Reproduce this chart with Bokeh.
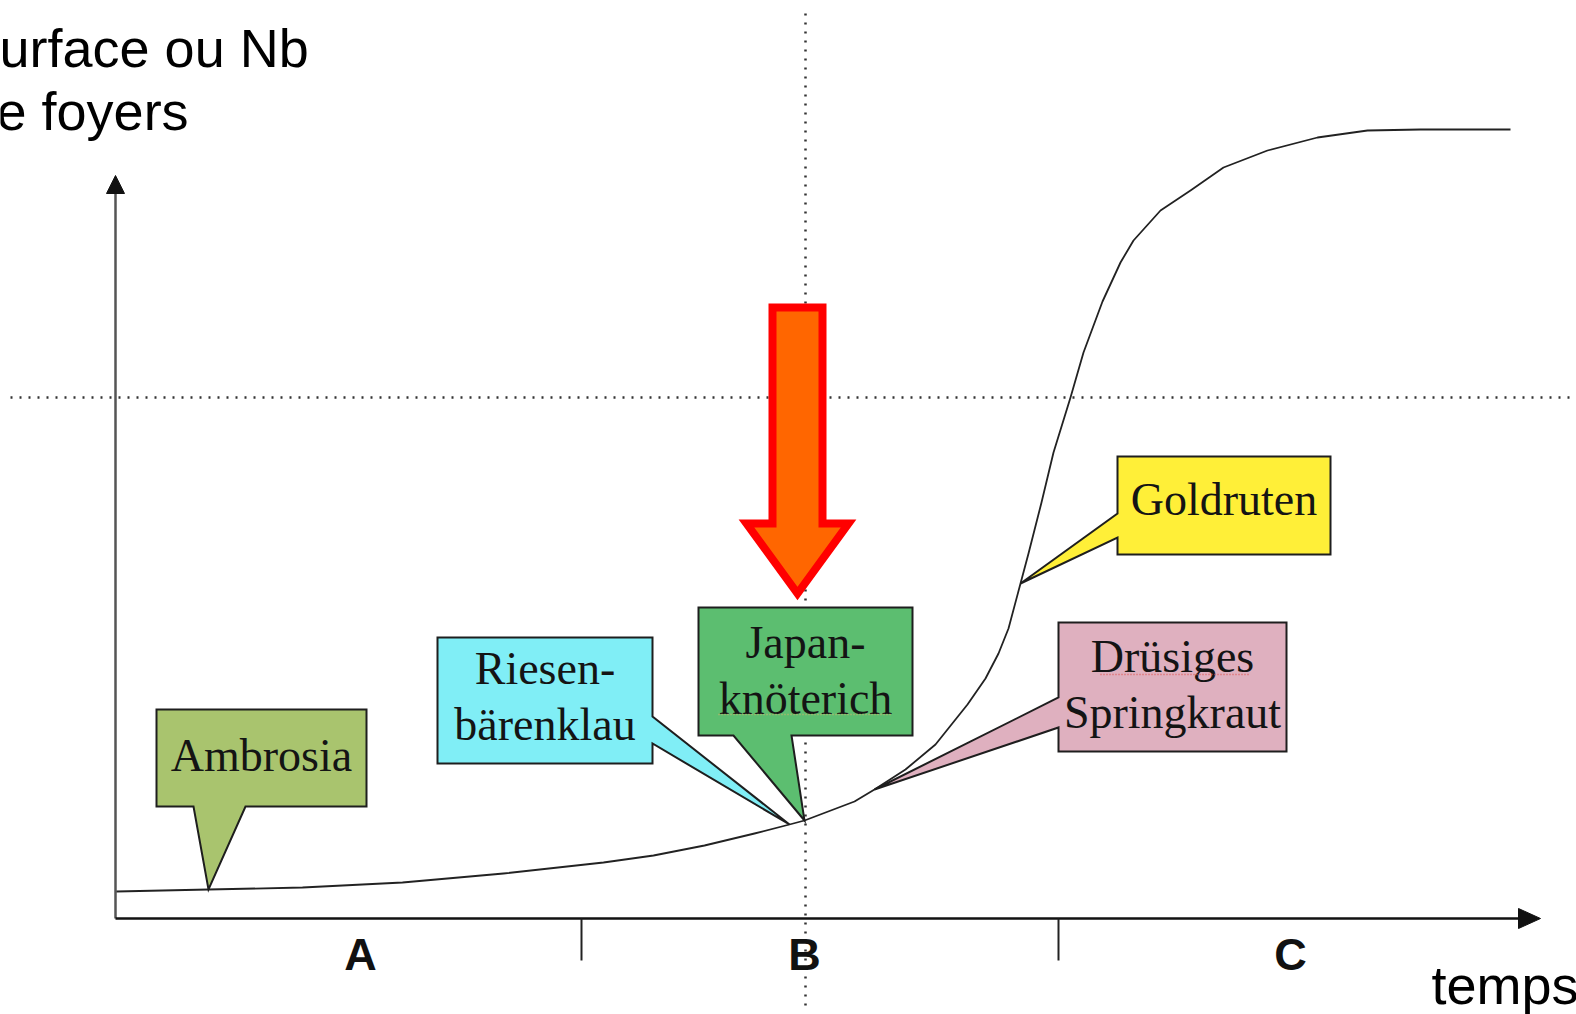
from bokeh.plotting import figure
from bokeh.models import Range1d, ColumnDataSource
from bokeh.core.properties import value
from bokeh.embed import file_html
from bokeh.resources import INLINE

# Spread of invasive plants over time (logistic growth curve).
# time: position along the time axis; surface: area / number of sites.
time = [1, 93, 187, 287, 388, 488, 538, 589, 639, 674, 689, 739, 759, 790,
        820, 852, 870, 883, 893, 905, 913, 926, 938, 955, 968, 987, 1005,
        1018, 1045, 1075, 1108, 1152, 1202, 1252, 1305, 1395]
surface = [27, 29, 31, 36, 45, 56, 63, 73, 85, 94, 98, 117, 129, 149,
           174, 214, 240, 265, 290, 335, 365, 416, 466, 521, 566, 617, 656,
           678, 708, 728, 751, 768, 781, 788, 789, 789]

# Species and the curve point each callout refers to
species = ["Ambrosia", "Riesen-\nbärenklau", "Japan-\nknöterich",
           "Goldruten", "Drüsiges\nSpringkraut"]
species_point = [1, 9, 10, 19, 12]

# Phases along the time axis
phases = ["A", "B", "C"]
phase_bounds = [466, 943]
phase_centers = [245, 689, 1175]

# Threshold levels (dotted guides)
threshold_time = 690
threshold_surface = 521

# Callout layout: box (left, right, top, bottom), side of the tail, tail base
callout_layout = [
    dict(box=(41, 251, 209, 112), side="bottom", base=(78, 130), fill="#A9C46E", first=163),
    dict(box=(322, 537, 281, 155), side="right", base=(202, 175), fill="#80EEF6", first=250),
    dict(box=(583, 797, 311, 183), side="bottom", base=(618, 676), fill="#5CBE70", first=276),
    dict(box=(1002, 1215, 462, 364), side="left", base=(405, 381), fill="#FFEF38", first=419),
    dict(box=(943, 1171, 296, 167), side="left", base=(221, 191), fill="#DFB0BF", first=262),
]
LINE_STEP = 56

p = figure(width=1576, height=1014, x_range=Range1d(-115, 1461),
           y_range=Range1d(-96, 918), output_backend="svg",
           toolbar_location=None, min_border=0,
           x_axis_location=None, y_axis_location=None)
p.grid.visible = False
p.outline_line_color = None
p.background_fill_color = "white"
p.border_fill_color = "white"

# dotted guides
p.line([-105, 1461], [threshold_surface, threshold_surface],
       line_color="#333333", line_width=2.5, line_dash="2 7")
p.line([threshold_time, threshold_time], [-87, 910],
       line_color="#333333", line_width=2.5, line_dash="2 7")

# axes with arrow heads
p.line([0, 0], [0, 727], line_color="#555555", line_width=2.5)
p.patch([-9, 9, 0], [725, 725, 743], color="#111111")
p.line([0, 1405], [0, 0], line_color="#111111", line_width=2.5)
p.patch([1403, 1403, 1425], [10, -10, 0], color="#111111")

# phase separators and labels
p.segment(x0=phase_bounds, y0=[0] * len(phase_bounds),
          x1=phase_bounds, y1=[-42] * len(phase_bounds),
          line_color="#222222", line_width=2)
p.text(x=phase_centers, y=[-36] * len(phases), text=phases,
       text_font=value("Liberation Sans"), text_font_style="bold",
       text_font_size="45px", text_align="center",
       text_baseline="alphabetic", text_color="#111111")

# axis titles (the vertical title runs off the left edge)
p.text(x=[-152, -149], y=[871, 808], text=["Surface ou Nb", "de foyers"],
       text_font=value("Liberation Sans"), text_font_size="54px",
       text_align="left", text_baseline="alphabetic", text_color="#000000")
p.text(x=[1316], y=[-66], text=["temps"],
       text_font=value("Liberation Sans"), text_font_size="54px",
       text_align="left", text_baseline="alphabetic", text_color="#000000")

# growth curve
p.line(time, surface, line_color="#222222", line_width=1.8, line_join="round")


def callout_shape(box, side, base, tip):
    left, right, top, bottom = box
    tx, ty = tip
    a, b = base
    if side == "bottom":
        xs = [left, right, right, b, tx, a, left]
        ys = [top, top, bottom, bottom, ty, bottom, bottom]
    elif side == "right":
        xs = [left, right, right, tx, right, right, left]
        ys = [top, top, a, ty, b, bottom, bottom]
    else:
        xs = [left, right, right, left, left, tx, left]
        ys = [top, top, bottom, bottom, b, ty, a]
    return xs, ys


xs, ys, fills = [], [], []
lx, ly, lt = [], [], []
for name, idx, lay in zip(species, species_point, callout_layout):
    tip = (time[idx], surface[idx])
    sx, sy = callout_shape(lay["box"], lay["side"], lay["base"], tip)
    xs.append(sx)
    ys.append(sy)
    fills.append(lay["fill"])
    cx = (lay["box"][0] + lay["box"][1]) / 2
    for k, line in enumerate(name.split("\n")):
        lx.append(cx)
        ly.append(lay["first"] - k * LINE_STEP)
        lt.append(line)

p.patches("xs", "ys", source=ColumnDataSource(dict(xs=xs, ys=ys, fill=fills)),
          fill_color="fill", line_color="#1E1E1E", line_width=2,
          line_join="miter")
p.text(x=lx, y=ly, text=lt, text_font=value("Liberation Serif"),
       text_font_size="46px", text_align="center",
       text_baseline="alphabetic", text_color="#141414")

# spell-check style underlines
p.line([603, 775], [204, 204], line_color="#C8B46A", line_width=1.5, line_dash="1 2")
p.line([985, 1135], [244, 244], line_color="#E05A5A", line_width=1.5, line_dash="1 2")

# highlight arrow pointing at the Japanese knotweed stage
p.patch([657, 707, 707, 733, 682, 631, 657],
        [611, 611, 395, 395, 325, 395, 395],
        fill_color="#FF6600", line_color="#FF0000", line_width=8,
        line_join="miter")

open("out.html", "w").write(file_html(p, INLINE))
